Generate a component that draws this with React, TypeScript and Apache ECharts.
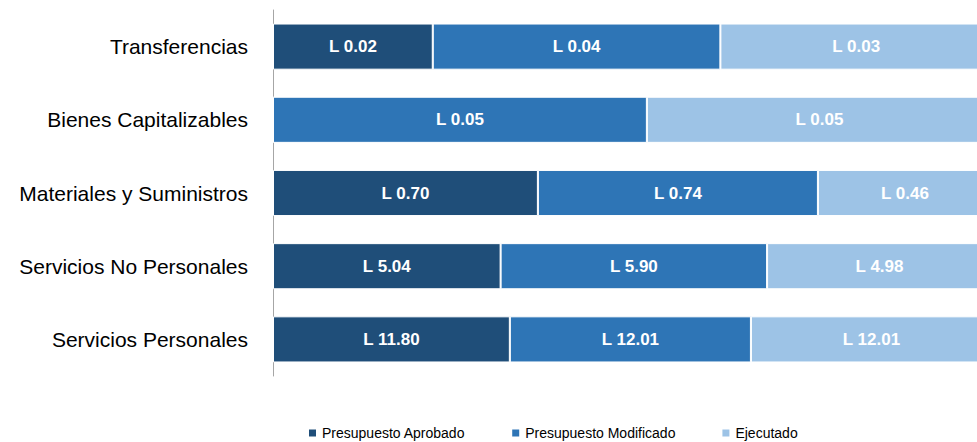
import React, { useEffect, useRef } from "react";
import * as echarts from "echarts";

const categories = [
  "Transferencias",
  "Bienes Capitalizables",
  "Materiales y Suministros",
  "Servicios No Personales",
  "Servicios Personales",
];
const seriesNames = ["Presupuesto Aprobado", "Presupuesto Modificado", "Ejecutado"];
const aprobado = [0.02, 0, 0.7, 5.04, 11.8];
const modificado = [0.036, 0.052, 0.74, 5.9, 12.01];
const ejecutado = [0.034, 0.048, 0.46, 4.98, 12.01];
const colors = ["#1F4E79", "#2E75B6", "#9DC3E6"];

const FONT = "'Liberation Sans', Arial, sans-serif";

export default function App() {
  const ref = useRef<HTMLDivElement>(null);
  useEffect(() => {
    if (!ref.current) return;
    const chart = echarts.init(ref.current, undefined, { renderer: "svg" });
    const raw = [aprobado, modificado, ejecutado];
    const totals = categories.map((_, i) => aprobado[i] + modificado[i] + ejecutado[i]);
    chart.setOption({
      animation: false,
      grid: {
        left: 273,
        right: -15,
        top: 10,
        bottom: 66,
        containLabel: false,
        outerBoundsMode: "none",
      },
      legend: {
        data: seriesNames,
        left: 307,
        top: 426,
        padding: 0,
        icon: "rect",
        itemWidth: 9,
        itemHeight: 9,
        itemGap: 45,
        textStyle: { fontFamily: FONT, fontSize: 14, color: "#000" },
      },
      xAxis: {
        type: "value",
        min: 0,
        max: 1,
        show: false,
      },
      yAxis: {
        type: "category",
        data: categories,
        inverse: true,
        axisLine: { show: true, lineStyle: { color: "#A6A6A6", width: 1 } },
        axisTick: { show: false },
        axisLabel: { fontFamily: FONT, fontSize: 21, color: "#000", margin: 25 },
      },
      series: raw.map((arr, si) => ({
        name: seriesNames[si],
        type: "bar",
        stack: "total",
        barWidth: "63%",
        itemStyle: { color: colors[si], borderColor: "#fff", borderWidth: 1 },
        label: {
          show: true,
          position: "inside",
          color: "#fff",
          fontFamily: FONT,
          fontWeight: "bold",
          fontSize: 17,
          formatter: (p: any) => {
            const v = arr[p.dataIndex];
            return v > 0 ? "L " + v.toFixed(2) : "";
          },
        },
        data: arr.map((v, i) => v / totals[i]),
      })),
    });
    return () => chart.dispose();
  }, []);
  return (
    <div
      ref={ref}
      style={{ position: "fixed", left: 0, top: 0, width: 977, height: 442, background: "#fff" }}
    />
  );
}
